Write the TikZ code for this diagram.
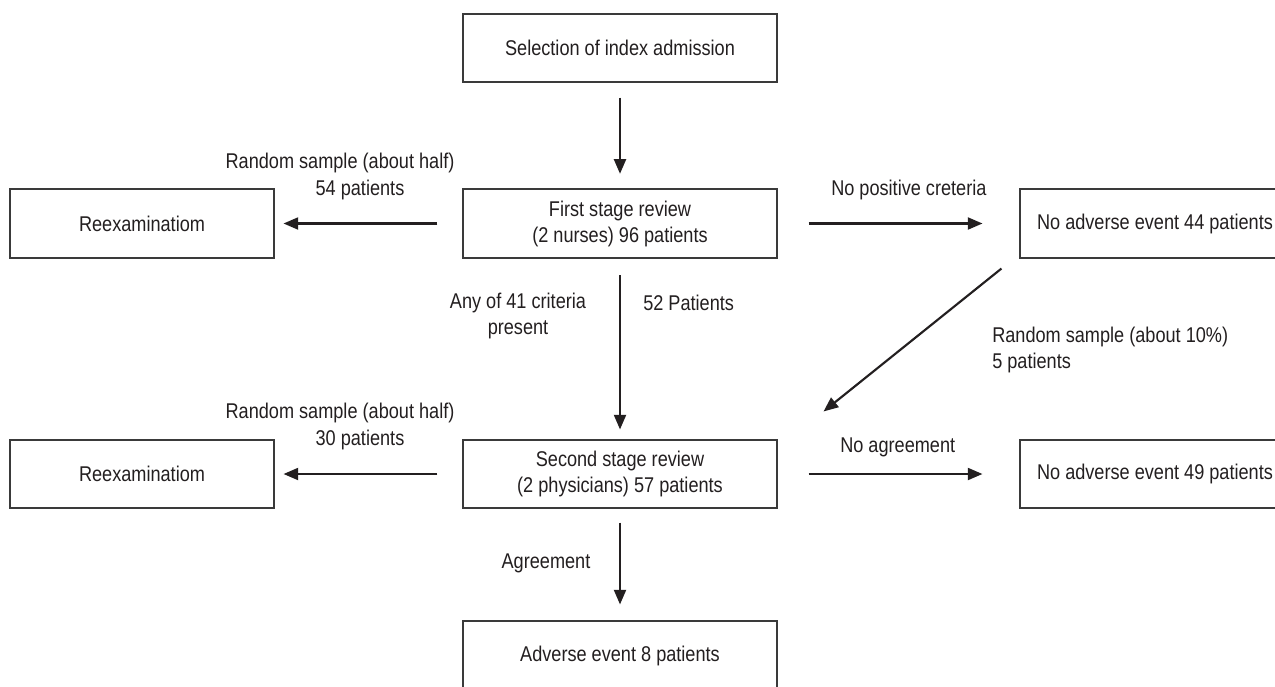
\documentclass[tikz,border=0pt]{standalone}
\usepackage{fontspec}
\setmainfont{Liberation Sans}[FakeStretch=0.85]
\usetikzlibrary{arrows.meta,calc}
\definecolor{ink}{HTML}{231F20}
\definecolor{boxline}{HTML}{3A3A3A}
\begin{document}
\begin{tikzpicture}[x=0.75pt,y=-0.75pt,
  every node/.style={font=\fontsize{16}{19.5}\selectfont, text=ink},
  box/.style={draw=boxline, line width=0.8pt, inner sep=0pt, align=center},
  arr/.style={draw=ink, line width=1.6pt, -{Triangle[length=11pt,width=9pt]}},
  lab/.style={inner sep=0pt}]
\clip (0,0) rectangle (1275,686);
\fill[white] (0,0) rectangle (1275,686);
% boxes
\node[box, minimum width=235.5pt, minimum height=51pt] (top) at (620,48) {Selection of index admission};
\node[box, minimum width=235.5pt, minimum height=51.75pt] (first) at (620,223.5) {First stage review\\(2 nurses) 96 patients};
\node[box, minimum width=198pt, minimum height=51.75pt] (re1) at (142,223.5) {Reexaminatiom};
\node[box, minimum width=202.5pt, minimum height=51.75pt] (na1) at (1155,223.5) {No adverse event 44 patients};
\node[box, minimum width=235.5pt, minimum height=51pt] (second) at (620,474) {Second stage review\\(2 physicians) 57 patients};
\node[box, minimum width=198pt, minimum height=51pt] (re2) at (142,474) {Reexaminatiom};
\node[box, minimum width=202.5pt, minimum height=51pt] (na2) at (1155,474) {No adverse event 49 patients};
\node[box, minimum width=235.5pt, minimum height=52.5pt] (adv) at (620,656) {Adverse event 8 patients};
% arrows
\draw[arr, shorten <=11.25pt, shorten >=11pt] (top.south) -- (first.north);
\draw[arr, shorten <=18.75pt, shorten >=6.75pt] (first.west) -- (re1.east);
\draw[arr, shorten <=23.25pt, shorten >=27.75pt] (first.east) -- (na1.west);
\draw[arr, shorten <=12.5pt, shorten >=7.5pt] (first.south) -- (second.north);
\draw[arr] ($(na1.south west)+(-18,10)$) -- ($(second.north east)+(46,-28)$);
\draw[arr, shorten <=18.75pt, shorten >=6.75pt] (second.west) -- (re2.east);
\draw[arr, shorten <=23.25pt, shorten >=27.75pt] (second.east) -- (na2.west);
\draw[arr, shorten <=10.5pt, shorten >=12pt] (second.south) -- (adv.north);
% labels
\node[lab] (l1a) at (340,163) {Random sample (about half)};
\node[lab] (l1b) at (360,190) {54 patients};
\node[lab, anchor=west] (l2) at (831,190) {No positive creteria};
\node[lab] (l3a) at (518,303) {Any of 41 criteria};
\node[lab] (l3b) at (518,330) {present};
\node[lab, anchor=west] (l4) at (643,303) {52 Patients};
\node[lab, anchor=west] (l5a) at (992,337) {Random sample (about 10\%)};
\node[lab, anchor=west] (l5b) at (992,363) {5 patients};
\node[lab] (l6a) at (340,413) {Random sample (about half)};
\node[lab] (l6b) at (360,440) {30 patients};
\node[lab, anchor=west] (l7) at (840,447) {No agreement};
\node[lab] (l8) at (546,563) {Agreement};
\end{tikzpicture}
\end{document}
